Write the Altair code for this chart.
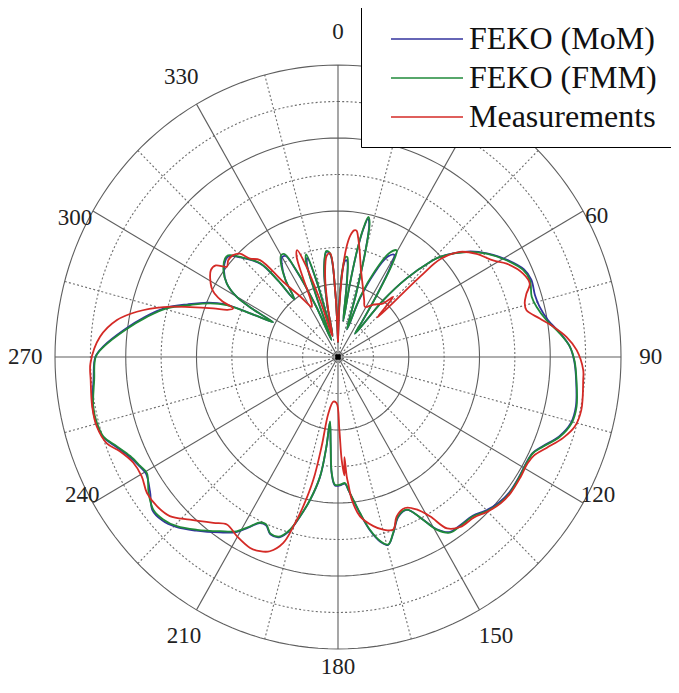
import altair as alt
import pandas as pd
import numpy as np

# ---------------- data (angle in degrees clockwise from top, radius in ring units; outer ring = 8)
feko_theta = [0, 1.5, 3, 4.5, 5.5, 7, 8.5, 9.5, 10.5, 11.5, 12.6, 13.6, 15, 16.5, 18.5, 21, 24, 27, 29.6, 31,
              33, 35, 37, 39.4, 42, 45, 46.4, 51.7, 56, 60.9, 65.5, 68.8, 73.2, 76.3, 80.3, 84.1, 87.5, 91,
              95.3, 101.4, 105.3, 109.2, 112.9, 115.5, 118.6, 122.5, 127.4, 131.1, 135.2, 138.8, 143.4,
              146.7, 149.5, 152, 155.1, 158.7, 162.1, 164.6, 166.7, 169.2, 171.7, 173.7, 175.4, 176.7,
              179.1, 181.4, 183.2, 185, 187.3, 187.6, 188.8, 191.4, 193.8, 196, 198.4, 201.5, 203.8,
              205.9, 208.5, 211, 214.9, 220.1, 224.5, 228, 231.3, 235.2, 239.5, 241.9, 245.2, 248.6,
              251.8, 255.1, 258.9, 264.8, 270, 272.5, 277.1, 281.5, 285.4, 288.8, 292.1, 294.3, 296,
              297.5, 298.5, 299.9, 302.6, 306.3, 310.2, 311.9, 314.7, 319.4, 321, 322, 325, 328, 330,
              331.8, 333.5, 336, 338.5, 339.8, 341, 342.3, 343.8, 345.5, 348, 351, 353.5, 355.5, 357.5, 360]
fmm_r = [0.4, 1.5, 2.4, 2.75, 2.75, 2.1, 1.0, 2.0, 3.0, 3.6, 3.93, 3.8, 3.0, 1.8, 0.8, 1.8, 2.6, 3.2, 3.36, 3.0,
         2.0, 1.2, 0.8, 2.0, 2.9, 3.68, 3.98, 4.64, 5.06, 5.45, 5.75, 5.82, 5.72, 5.78, 5.98, 6.30, 6.56, 6.69,
         6.77, 6.88, 6.85, 6.64, 6.30, 6.11, 6.07, 6.09, 6.12, 6.08, 5.96, 5.80, 5.78,
         5.76, 5.49, 5.0, 4.61, 4.68, 5.07, 5.33, 5.18, 4.82, 4.32, 3.93, 3.65, 3.46,
         3.50, 3.50, 3.18, 2.37, 1.78, 2.47, 3.31, 3.99, 4.49, 4.92, 5.18, 5.2, 5.02,
         5.04, 5.3, 5.57, 5.82, 6.19, 6.50, 6.65, 6.69, 6.52, 6.27, 6.34, 6.47, 6.71,
         6.98, 7.05, 7.05, 6.92, 6.85, 6.62, 6.05, 5.51, 5.02, 4.42, 3.90, 3.45, 2.6,
         2.07, 2.7, 3.30, 3.73, 4.02, 4.18, 4.17, 3.90, 3.38, 2.7, 2.0, 2.6, 3.05, 3.22,
         3.2, 2.7, 1.5, 0.5, 1.8, 2.8, 2.95, 2.2, 0.6, 1.5, 2.5, 2.92, 2.85, 1.8, 0.4]
mom_r = [0.4, 1.5, 2.35, 2.65, 2.65, 2.0, 1.0, 2.0, 2.95, 3.55, 3.88, 3.75, 2.95, 1.8, 0.8, 1.7, 2.5, 3.08, 3.22, 2.88,
         1.95, 1.2, 0.8, 2.0, 2.9, 3.68, 3.98, 4.66, 5.08, 5.47, 5.78, 5.86, 5.82, 5.86, 6.02, 6.32, 6.56, 6.68,
         6.76, 6.86, 6.83, 6.62, 6.28, 6.10, 6.06, 6.08, 6.10, 6.05, 5.93, 5.78, 5.76,
         5.74, 5.47, 5.0, 4.62, 4.70, 5.08, 5.34, 5.20, 4.84, 4.34, 3.95, 3.66, 3.48,
         3.52, 3.52, 3.20, 2.40, 1.80, 2.49, 3.33, 4.0, 4.50, 4.94, 5.20, 5.22, 5.04,
         5.06, 5.32, 5.60, 5.86, 6.22, 6.53, 6.69, 6.72, 6.47, 6.30, 6.36, 6.50, 6.74,
         7.0, 7.07, 7.07, 6.94, 6.86, 6.64, 6.08, 5.55, 5.06, 4.48, 3.96, 3.52, 2.6,
         2.07, 2.7, 3.30, 3.73, 4.0, 4.15, 4.14, 3.88, 3.36, 2.7, 2.0, 2.6, 3.0, 3.16,
         3.14, 2.65, 1.5, 0.5, 1.8, 2.7, 2.85, 2.1, 0.6, 1.5, 2.5, 2.9, 2.82, 1.8, 0.4]

meas_theta = [0, 1.5, 3, 4.5, 6, 7.5, 8.6, 10, 12, 15, 20, 25.5, 29, 35, 41, 43.4, 44.5, 45.8, 46.5, 47.2, 50.1,
              54.2, 58.9, 61.8, 66.4, 69.7, 72, 74.4, 76.5, 79.5, 82.2, 85.1, 88.4, 92.9, 95.2, 101.9, 105.9,
              109.2, 112.9, 116, 118.6, 122.5, 127.4, 131.1, 135.2, 138.8, 143.4, 146.7, 149.2, 152,
              155.4, 159.2, 161.7, 164.9, 167.8, 171.9, 174.3, 175.2, 175.7, 176.2, 176.8, 177.9, 178.9,
              181.7, 186.1, 190, 190.7, 191.7, 193.5, 195.2, 196.9, 199.9, 202.5, 205.4, 210.2, 214.4,
              217.8, 223.2, 227.5, 231.4, 235.4, 239.5, 243.4, 247.2, 250.1, 254.4, 258.9, 264.8, 268.6,
              274.7, 279.2, 282.3, 285.5, 288.1, 290.7, 292.5, 294.2, 295, 296.5, 298, 303.5, 306, 308.2,
              310.5, 313.3, 315.6, 317.3, 320.3, 323.1, 327, 331.6, 333.5, 335.5, 337, 338.5, 340, 342,
              344.5, 347.5, 350.5, 353.5, 355.5, 357.5, 360]
meas_r = [0.4, 1.3, 2.3, 3.0, 3.35, 3.5, 3.5, 3.3, 2.95, 2.5, 2.05, 1.72, 1.57, 1.75, 1.95, 2.27, 1.9, 1.55, 3.2,
          3.95, 4.49, 4.83, 5.12, 5.41, 5.71, 5.78, 5.6, 5.48, 5.48, 5.80, 6.14, 6.48, 6.75, 6.94, 6.96, 7.03,
          6.96, 6.74, 6.40, 6.16, 6.1, 6.12, 6.14, 6.1, 5.98, 5.84, 5.80, 5.62, 5.08, 4.73,
          4.55, 4.67, 4.98, 4.90, 4.74, 4.41, 3.93, 3.5, 3.28, 2.75, 3.25, 2.81, 1.99,
          1.27, 1.23, 1.57, 2.49, 3.43, 4.21, 4.81, 5.32, 5.66, 5.76, 5.79, 5.68, 5.56,
          5.75, 6.11, 6.45, 6.55, 6.56, 6.44, 6.47, 6.68, 6.95, 7.08, 7.08, 7.02, 7.0,
          6.75, 6.33, 5.82, 5.12, 4.40, 3.77, 3.38, 3.25, 3.6, 3.9, 4.05, 4.31, 4.27, 4.0,
          4.08, 4.07, 3.96, 3.67, 3.45, 2.57, 2.0, 1.56, 1.7, 2.4, 3.0, 3.15, 2.7, 1.6,
          0.6, 1.2, 2.2, 2.8, 2.85, 1.8, 0.4]

series_names = ["FEKO (MoM)", "FEKO (FMM)", "Measurements"]
series_colors = ["#33339e", "#1f8a3a", "#d42a26"]

solid_rings = [2, 4, 6, 8]
dotted_rings = [1, 3, 5, 7]
solid_spokes = [0, 30, 60, 90, 120, 150, 180, 210, 240, 270, 300, 330]
dotted_spokes = [15, 45, 75, 105, 135, 165, 195, 225, 255, 285, 315, 345]
# the "30" label sits under the legend box in the reference, so it is not drawn
label_texts = ["0", "60", "90", "120", "150", "180", "210", "240", "270", "300", "330"]
label_theta = [0, 62.2, 90, 117.2, 149.7, 180, 209.7, 242.4, 270, 297.1, 330]
label_r = [8.90, 8.27, 8.84, 8.26, 8.85, 8.49, 8.79, 8.16, 8.84, 8.35, 8.86]
outer = 8

# ---------------- tables
rows = []
for name, th, rr in [(series_names[0], feko_theta, mom_r),
                     (series_names[1], feko_theta, fmm_r),
                     (series_names[2], meas_theta, meas_r)]:
    for i, (t, r) in enumerate(zip(th, rr)):
        rows.append({"series": name, "theta": t, "r": r, "order": i})
curves = pd.DataFrame(rows)

circle_angles = np.arange(0, 361, 2)


def ring_table(radii):
    return pd.DataFrame([{"ring": r, "theta": float(a), "r": r, "order": k}
                         for r in radii for k, a in enumerate(circle_angles)])


def spoke_table(angles):
    return pd.DataFrame([{"spoke": a, "theta": a, "r": rr, "order": k}
                         for a in angles for k, rr in enumerate([0, outer])])


labels = pd.DataFrame({"theta": label_theta, "r": label_r, "text": label_texts})
centre = pd.DataFrame({"theta": [0], "r": [0]})

xs = alt.Scale(domain=[-8, 8], nice=False, zero=False)
ys = alt.Scale(domain=[-8, 8], nice=False, zero=False)


def polar(chart):
    return chart.transform_calculate(
        x="datum.r * sin(datum.theta * PI / 180)",
        y="datum.r * cos(datum.theta * PI / 180)",
    )


X = alt.X("x:Q", scale=xs, axis=None)
Y = alt.Y("y:Q", scale=ys, axis=None)

grid_color = "#5e5e5e"
dot_color = "#6e6e6e"
serif = "Liberation Serif, Times New Roman, serif"

solid_ring_layer = polar(alt.Chart(ring_table(solid_rings))).mark_line(
    color=grid_color, strokeWidth=1.1).encode(x=X, y=Y, detail="ring:N", order="order:Q")
dotted_ring_layer = polar(alt.Chart(ring_table(dotted_rings))).mark_line(
    color=dot_color, strokeWidth=1.1, strokeDash=[2, 2.2]).encode(x=X, y=Y, detail="ring:N", order="order:Q")
solid_spoke_layer = polar(alt.Chart(spoke_table(solid_spokes))).mark_line(
    color=grid_color, strokeWidth=1.1).encode(x=X, y=Y, detail="spoke:N", order="order:Q")
dotted_spoke_layer = polar(alt.Chart(spoke_table(dotted_spokes))).mark_line(
    color=dot_color, strokeWidth=1.1, strokeDash=[2, 2.2]).encode(x=X, y=Y, detail="spoke:N", order="order:Q")

centre_layer = polar(alt.Chart(centre)).mark_square(size=30, color="black", opacity=1).encode(x=X, y=Y)

label_layer = polar(alt.Chart(labels)).mark_text(
    font=serif, fontSize=23, color="#222222", align="center", baseline="middle"
).encode(x=X, y=Y, text="text:N")

curve_layer = polar(alt.Chart(curves)).mark_line(strokeWidth=1.8, interpolate="catmull-rom").encode(
    x=X, y=Y, order="order:Q",
    color=alt.Color("series:N", scale=alt.Scale(domain=series_names, range=series_colors),
                    legend=alt.Legend(title=None, orient="none", legendX=306, legendY=-59,
                                      fillColor="white", strokeColor="black", padding=14,
                                      symbolType="M-2,0H2", symbolSize=1296, symbolStrokeWidth=1.6,
                                      symbolOffset=33, labelFont=serif, labelFontSize=32,
                                      labelColor="#111111", labelOffset=23, rowPadding=4, labelLimit=400)),
)

chart = alt.layer(
    dotted_ring_layer, dotted_spoke_layer, solid_ring_layer, solid_spoke_layer,
    centre_layer, label_layer, curve_layer
).properties(
    width=566, height=584, autosize="none",
    padding={"left": 47, "top": 57, "right": 50, "bottom": 36},
).configure_view(stroke=None)

chart.save("out.html", embed_options={"renderer": "svg", "actions": False})
